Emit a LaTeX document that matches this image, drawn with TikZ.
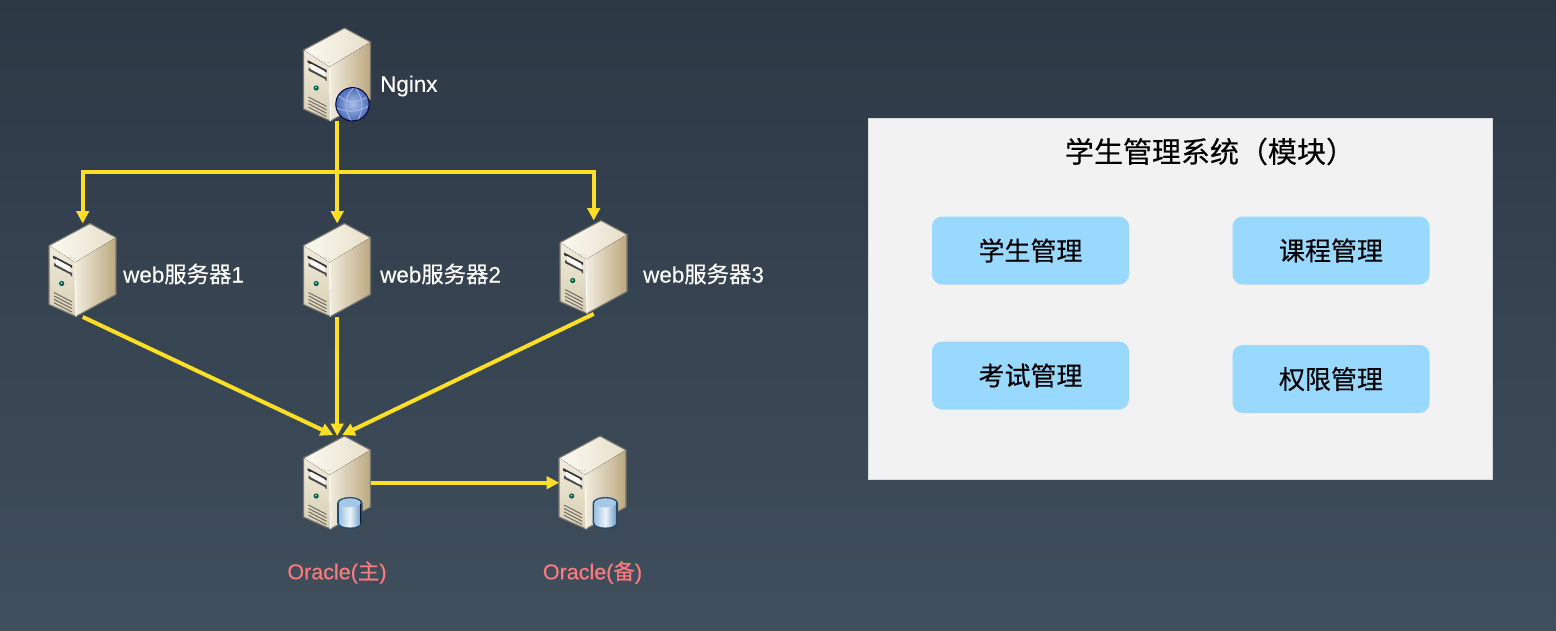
\documentclass[tikz,border=0pt]{standalone}
\usepackage{fontspec}
\setmainfont[FakeBold=0.25]{Liberation Sans}
\newfontfamily\cjk[FakeBold=0.3]{Noto Sans CJK SC}
\usetikzlibrary{arrows.meta,calc}
\definecolor{bgtop}{HTML}{2D3845}
\definecolor{bgbot}{HTML}{404F5D}
\definecolor{flow}{HTML}{FFDF25}
\definecolor{panel}{HTML}{F2F2F2}
\definecolor{pill}{HTML}{99D9FF}
\definecolor{dbtxt}{HTML}{FF7A7A}
\definecolor{topA}{HTML}{FBF9F2}
\definecolor{topB}{HTML}{E6DFC9}
\definecolor{frontA}{HTML}{F0EBDB}
\definecolor{frontB}{HTML}{D9CEB2}
\definecolor{sideA}{HTML}{F1ECDD}
\definecolor{sideB}{HTML}{BBA880}
\definecolor{rim}{HTML}{77766F}
\definecolor{cylL}{HTML}{9CC0E0}
\definecolor{cylM}{HTML}{EEF5FB}
\definecolor{cylR}{HTML}{6F9CC8}
\definecolor{cylT}{HTML}{A6C8E6}
\definecolor{cylE}{HTML}{234A70}
\definecolor{globeI}{HTML}{A9C0E6}
\definecolor{globeO}{HTML}{4A6DB5}
\tikzset{
  flowline/.style={draw=flow,line width=4pt},
  flowarrow/.style={flowline,-{Triangle[length=12.5pt,width=12.5pt]}},
  srvnode/.style={inner sep=0pt,minimum width=67pt,minimum height=93pt,anchor=north west},
  lbl/.style={text=white,font=\fontsize{22.4}{26}\selectfont,anchor=west,inner sep=0pt},
  dblbl/.style={text=dbtxt,font=\fontsize{21.5}{26}\selectfont,inner sep=0pt},
  modbox/.style={fill=pill,rounded corners=10pt,minimum width=197pt,minimum height=68pt,inner sep=0pt,text=black,font=\cjk\fontsize{26}{30}\selectfont},
  edge/.style={draw=rim,line width=1.1pt,line join=round}
}
\newcommand{\srvbody}{%
  \fill[left color=topA,right color=topB] (41,0)--(67,14)--(26,39)--(0,22)--cycle;
  \fill[left color=sideA,right color=sideB] (26,39)--(67,14)--(67,71)--(27,93)--cycle;
  \fill[top color=frontA,bottom color=frontB] (0,22)--(26,39)--(27,93)--(0,81)--cycle;
  \draw[edge] (0,22)--(41,0)--(67,14)--(67,71)--(27,93)--(0,81)--cycle;
  \draw[white,line width=1pt] (26,39)--(27,93);
  \fill[black!80] (4,32)--(23,42)--(23,44.5)--(4,34.5)--cycle;
  \fill[black!70] (5,39.5)--(23,49.5)--(23,53)--(21.5,52)--(21.5,51)--(5,42.5)--cycle;
  \fill[white!92!frontB] (7,35.5)--(21,43)--(21,48.5)--(7,41)--cycle;
  \fill[teal!70!black] (12.7,60) circle (2.6);
  \fill[green!45!white] (12.5,59.6) circle (1);
  \foreach \k in {0,1,2,3}{\draw[black!60,line width=.9pt] (5,69+3.4*\k)--(23,78.4+3.4*\k);}
  \foreach \k in {0,1.5,3,5.5}{\fill[gray!60!white] (19+\k*1.2,34+\k*.1) circle (.5);}
}
\newcommand{\globebadge}{%
  \fill[inner color=globeI,outer color=globeO,draw=black!75!blue,line width=1pt] (49,76.3) circle (16.7);
  \begin{scope}
    \clip (49,76.3) circle (16.2);
    \draw[white!70!blue,line width=.8pt] (35,68) .. controls (45,76) and (55,75) .. (65,68);
    \draw[white!70!blue,line width=.8pt] (33,80) .. controls (44,85) and (55,84) .. (65,78);
    \draw[white!70!blue,line width=.8pt] (50,60) .. controls (40,70) and (40,82) .. (48,93);
    \draw[white!70!blue,line width=.8pt] (52,60) .. controls (60,70) and (60,82) .. (54,93);
  \end{scope}
}
\newcommand{\dbbadge}{%
  \fill[cylE] (33.7,67)--(33.7,87) arc[start angle=180,end angle=0,x radius=12.65,y radius=6] -- (59,67) arc[start angle=0,end angle=-180,x radius=12.65,y radius=6]--cycle;
  \fill[left color=cylL,right color=cylR,middle color=cylM]
    (35.5,67)--(35.5,87) arc[start angle=180,end angle=0,x radius=10.85,y radius=4.6] -- (57.2,67) arc[start angle=0,end angle=-180,x radius=10.85,y radius=4.6]--cycle;
  \fill[cylT] (46.35,67) ellipse (10.85 and 4.4);
}
\newcommand{\server}[4]{% name, x, y, badge
  \node[srvnode] (#1) at (#2,#3) {};
  \begin{scope}[shift={(#2,#3)}]
    \srvbody #4
  \end{scope}
}
\begin{document}
\begin{tikzpicture}[x=1pt,y=-1pt]
\useasboundingbox (0,0) rectangle (1556,630);
\shade[top color=bgtop,bottom color=bgbot] (0,0) rectangle (1556,630);

\server{nginx}{303.5}{28}{\globebadge}
\server{webA}{49}{223.5}{}
\server{webB}{303.5}{223.5}{}
\server{webC}{560}{220.5}{}
\server{dbmain}{303.5}{436}{\dbbadge}
\server{dbback}{559}{436}{\dbbadge}

\node[lbl] (nginxlbl) at (380,86) {Nginx};
\node[lbl] (webAlbl) at (123,274) {web{\cjk 服务器}1};
\node[lbl] (webBlbl) at (380,274) {web{\cjk 服务器}2};
\node[lbl] (webClbl) at (643,274) {web{\cjk 服务器}3};
\node[dblbl] (dbmainlbl) at (337,572.5) {Oracle({\cjk 主})};
\node[dblbl] (dbbacklbl) at (592.5,572.5) {Oracle({\cjk 备})};

\draw[flowarrow] (nginx.south) -- ++(0,51) -| (webA.north);
\draw[flowarrow] (nginx.south) -- (webB.north);
\draw[flowarrow] (nginx.south) -- ++(0,51) -| (webC.north);

\coordinate (tipA) at ($(dbmain.north)+(-4,-1)$);
\coordinate (tipC) at ($(dbmain.north)+(5,-1)$);
\draw[flowarrow] (webA.south) -- (tipA);
\draw[flowarrow] (webB.south) -- (dbmain.north);
\draw[flowarrow] (webC.south) -- (tipC);
\draw[flowarrow] (dbmain.east) -- (dbback.west);

\node[draw=white!85!black,line width=.8pt,fill=panel,minimum width=624pt,minimum height=361pt,inner sep=0pt,anchor=north west] (panelbox) at (868,118) {};
\node[font=\cjk\fontsize{29}{34}\selectfont,text=black,inner sep=0pt] (paneltitle) at (1210,151.5) {学生管理系统（模块）};
\node[modbox] (m1) at (1030.5,250.5) {\raisebox{-1pt}{学生管理}};
\node[modbox] (m2) at (1331,250.5) {\raisebox{-1pt}{课程管理}};
\node[modbox] (m3) at (1030.5,375.5) {\raisebox{-1.5pt}{考试管理}};
\node[modbox] (m4) at (1331,379) {\raisebox{-1.5pt}{权限管理}};
\end{tikzpicture}
\end{document}
